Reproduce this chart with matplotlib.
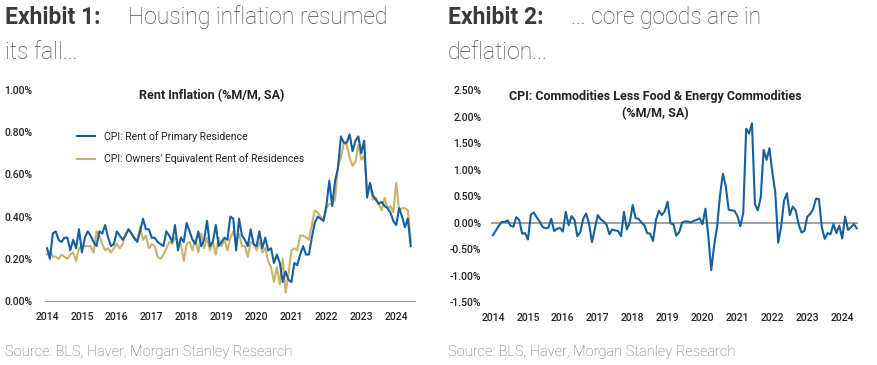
import matplotlib.pyplot as plt
import numpy as np

plt.rcParams["font.family"] = ["Roboto", "DejaVu Sans"]

# monthly, Jan 2014 .. Jun 2024
start_year = 2014
years = list(range(2014, 2025))

rent_primary = [
    0.25, 0.20, 0.32, 0.33, 0.29, 0.28, 0.30, 0.30, 0.24, 0.29, 0.25, 0.34,
    0.23, 0.30, 0.33, 0.31, 0.28, 0.26, 0.33, 0.32, 0.36, 0.30, 0.26, 0.27,
    0.33, 0.31, 0.29, 0.31, 0.34, 0.32, 0.30, 0.28, 0.33, 0.39, 0.34, 0.34,
    0.30, 0.30, 0.28, 0.27, 0.26, 0.33, 0.31, 0.28, 0.36, 0.24, 0.30, 0.28,
    0.37, 0.33, 0.29, 0.27, 0.33, 0.26, 0.29, 0.38, 0.26, 0.28, 0.36, 0.26,
    0.28, 0.30, 0.29, 0.40, 0.39, 0.24, 0.39, 0.31, 0.29, 0.26, 0.34, 0.27,
    0.26, 0.33, 0.25, 0.30, 0.24, 0.25, 0.18, 0.22, 0.18, 0.09, 0.14, 0.10,
    0.09, 0.18, 0.17, 0.22, 0.26, 0.22, 0.22, 0.30, 0.37, 0.40, 0.39, 0.38,
    0.45, 0.57, 0.45, 0.57, 0.63, 0.78, 0.75, 0.75, 0.79, 0.71, 0.76, 0.78,
    0.70, 0.76, 0.49, 0.56, 0.50, 0.48, 0.46, 0.47, 0.45, 0.44, 0.42, 0.38,
    0.36, 0.44, 0.40, 0.35, 0.39, 0.26,
]

owners_equiv = [
    0.22, 0.24, 0.21, 0.21, 0.20, 0.22, 0.21, 0.20, 0.22, 0.23, 0.19, 0.25,
    0.26, 0.26, 0.26, 0.26, 0.23, 0.33, 0.31, 0.27, 0.24, 0.25, 0.23, 0.25,
    0.27, 0.25, 0.27, 0.32, 0.34, 0.32, 0.29, 0.29, 0.35, 0.29, 0.31, 0.25,
    0.27, 0.26, 0.21, 0.20, 0.22, 0.25, 0.28, 0.27, 0.30, 0.28, 0.27, 0.19,
    0.27, 0.28, 0.24, 0.29, 0.23, 0.32, 0.25, 0.30, 0.24, 0.28, 0.22, 0.30,
    0.26, 0.29, 0.24, 0.30, 0.33, 0.28, 0.32, 0.26, 0.26, 0.21, 0.28, 0.27,
    0.24, 0.28, 0.23, 0.25, 0.19, 0.16, 0.09, 0.16, 0.08, 0.20, 0.04, 0.13,
    0.24, 0.25, 0.24, 0.31, 0.31, 0.30, 0.29, 0.36, 0.43, 0.42, 0.40, 0.38,
    0.44, 0.46, 0.46, 0.48, 0.64, 0.68, 0.75, 0.74, 0.68, 0.64, 0.66, 0.74,
    0.67, 0.69, 0.52, 0.55, 0.48, 0.49, 0.46, 0.43, 0.49, 0.44, 0.45, 0.42,
    0.56, 0.43, 0.44, 0.44, 0.43, 0.28,
]

core_goods = [
    -0.24, -0.15, -0.06, 0.01, 0.01, 0.04, -0.06, -0.08, 0.10, 0.05, -0.21, -0.20,
    -0.32, 0.15, 0.19, 0.10, 0.02, -0.08, -0.11, -0.10, 0.07, -0.16, -0.12, -0.10,
    -0.17, 0.20, -0.05, 0.12, 0.05, -0.26, -0.18, 0.07, 0.17, -0.02, -0.37, -0.12,
    0.14, 0.06, 0.02, -0.04, -0.22, -0.13, -0.15, -0.16, -0.26, 0.20, -0.13, 0.00,
    0.33, 0.08, 0.07, 0.00, -0.05, -0.20, -0.21, -0.35, 0.05, 0.22, 0.14, 0.21,
    0.39, -0.02, -0.03, -0.25, -0.18, 0.00, 0.02, 0.02, 0.00, 0.03, 0.05, 0.08,
    -0.03, 0.26, -0.26, -0.90, -0.43, -0.08, 0.51, 0.92, 0.68, 0.24, 0.23, 0.22,
    0.12, -0.07, 0.18, 1.77, 1.68, 1.87, 0.35, 0.23, 0.47, 1.37, 1.18, 1.40,
    0.94, 0.57, -0.38, -0.09, 0.41, 0.55, 0.14, 0.30, 0.23, -0.03, -0.19, -0.16,
    0.11, 0.16, 0.25, 0.45, 0.44, -0.09, -0.31, -0.20, -0.22, -0.03, -0.20, -0.06,
    -0.30, 0.11, -0.14, -0.09, -0.03, -0.11,
]

BLUE = "#15609f"
GOLD = "#c8b26c"
TXT = "#222222"

x = start_year + np.arange(len(rent_primary)) / 12
px_per_year = 34.92

fig = plt.figure(figsize=(8.78, 3.65), dpi=100)
W, H = 878, 365


def make_axes(x0, x1, y0, y1):
    return fig.add_axes([x0 / W, 1 - y1 / H, (x1 - x0) / W, (y1 - y0) / H])


def style(ax, fmt):
    for s in ax.spines.values():
        s.set_visible(False)
    ax.tick_params(length=0, labelsize=7.5, colors=TXT)
    ax.set_xticks(years)
    ax.set_xticklabels([str(y) for y in years], fontweight="medium")
    ax.yaxis.set_major_formatter(plt.FuncFormatter(lambda v, p: fmt.format(v)))
    for lab in ax.get_yticklabels():
        lab.set_fontweight("medium")


# ---- Exhibit 1
ax1 = make_axes(45, 415, 90, 301)
ax1.plot(x, rent_primary, color=BLUE, lw=1.5, label="CPI: Rent of Primary Residence", zorder=3)
ax1.plot(x, owners_equiv, color=GOLD, lw=1.5, label="CPI: Owners' Equivalent Rent of Residences", zorder=2)
ax1.set_xlim(2014 - 2 / px_per_year, 2014 + 368 / px_per_year)
ax1.set_ylim(0, 1.0)
ax1.set_yticks(np.arange(0, 1.01, 0.2))
style(ax1, "{:.2f}%")
ax1.spines["bottom"].set_visible(True)
ax1.spines["bottom"].set_color("#999999")
ax1.tick_params(axis="x", pad=8)
ax1.tick_params(axis="y", pad=9)
ax1.text((212 - 45) / 370, 0.975, "Rent Inflation (%M/M, SA)", transform=ax1.transAxes,
         ha="center", va="center", fontsize=9, fontweight="bold", color=TXT)
ax1.legend(loc="upper left", bbox_to_anchor=(0.06, 0.85), frameon=False, fontsize=7.5,
           handlelength=1.8, labelspacing=1.1, labelcolor=TXT)

# ---- Exhibit 2
ax2 = make_axes(491, 858, 90, 302)
ax2.plot(x, core_goods, color=BLUE, lw=1.5, zorder=3)
ax2.axhline(0, color="#999999", lw=1.3, zorder=2)
ax2.set_xlim(2014 - 2 / px_per_year, 2014 + 365 / px_per_year)
ax2.set_ylim(-1.5, 2.5)
ax2.set_yticks(np.arange(-1.5, 2.51, 0.5))
style(ax2, "{:.2f}%")
ax2.tick_params(axis="x", pad=8)
ax2.tick_params(axis="y", pad=7)
ax2.text((655 - 491) / 367, 1 - 15 / 212, "CPI: Commodities Less Food & Energy Commodities\n(%M/M, SA)",
         transform=ax2.transAxes, ha="center", va="center", fontsize=9, fontweight="bold",
         color=TXT, linespacing=1.45)

# ---- headers and sources
hdr = dict(fontsize=16.5, va="baseline")
fig.text(5 / W, 1 - 24 / H, "Exhibit 1:", fontweight="bold", color="#3a3a3a", **hdr)
fig.text(128 / W, 1 - 24 / H, "Housing inflation resumed", fontweight="light", color="#4a4a4a", **hdr)
fig.text(5 / W, 1 - 59 / H, "its fall...", fontweight="light", color="#4a4a4a", **hdr)
fig.text(448 / W, 1 - 24 / H, "Exhibit 2:", fontweight="bold", color="#3a3a3a", **hdr)
fig.text(571 / W, 1 - 24 / H, "... core goods are in", fontweight="light", color="#4a4a4a", **hdr)
fig.text(448 / W, 1 - 59 / H, "deflation...", fontweight="light", color="#4a4a4a", **hdr)

src = dict(fontsize=10.5, color="#666666", va="baseline", fontweight="light")
fig.text(5 / W, 1 - 356 / H, "Source: BLS, Haver, Morgan Stanley Research", **src)
fig.text(448 / W, 1 - 356 / H, "Source: BLS, Haver, Morgan Stanley Research", **src)

fig.savefig("out.png", dpi=100)
